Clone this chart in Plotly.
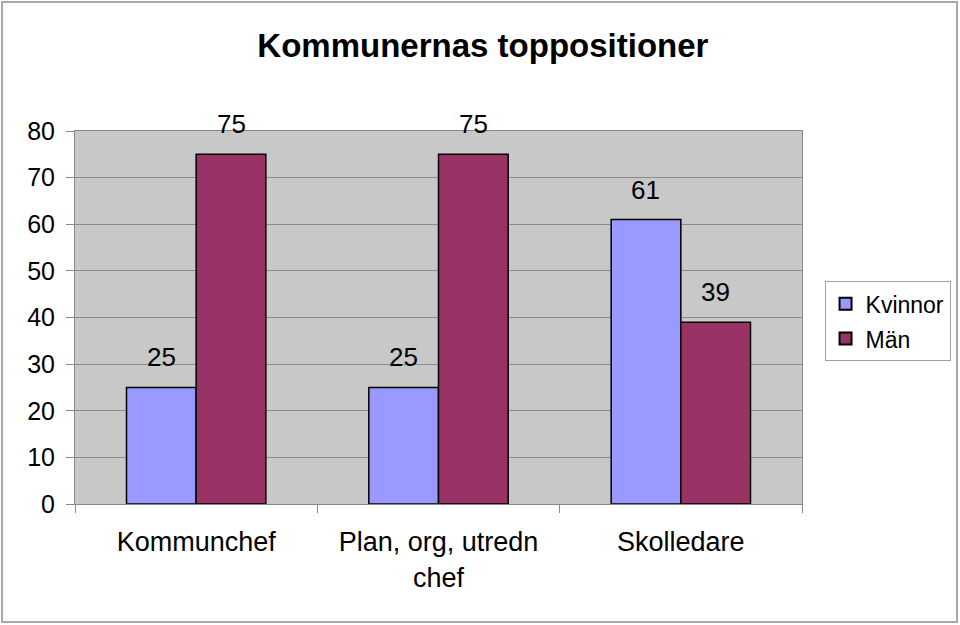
import plotly.graph_objects as go

categories = ["Kommunchef", "Plan, org, utredn<br>chef", "Skolledare"]
kvinnor = [25, 25, 61]
man = [75, 75, 39]
series_names = ["Kvinnor", "Män"]
y_ticks = [0, 10, 20, 30, 40, 50, 60, 70, 80]

FONT = "Liberation Sans, Arial, sans-serif"
col_k = "#9999FF"
col_m = "#993366"

fig = go.Figure()
fig.add_trace(go.Bar(x=categories, y=kvinnor, name=series_names[0], legendgroup="k",
                     marker=dict(color=col_k, line=dict(color="black", width=1.5))))
fig.add_trace(go.Bar(x=categories, y=man, name=series_names[1], legendgroup="m",
                     marker=dict(color=col_m, line=dict(color="black", width=1.5))))

annotations = []
for vals, shift in ((kvinnor, -35), (man, 35)):
    for c, v in zip(categories, vals):
        annotations.append(dict(x=c, y=v, xref="x", yref="y", text=str(v), showarrow=False,
                                xshift=shift, yshift=13, yanchor="bottom",
                                font=dict(family=FONT, size=26, color="black")))

fig.update_layout(
    width=960, height=625,
    margin=dict(l=75, r=158, t=131, b=121, autoexpand=False),
    paper_bgcolor="white", plot_bgcolor="#C8C8C8",
    barmode="group", bargap=0.425, bargroupgap=0,
    font=dict(family=FONT, size=22, color="black"),
    title=dict(text="<b>Kommunernas toppositioner</b>", x=0.503, xanchor="center", y=0.928, yanchor="middle",
               font=dict(family=FONT, size=33, color="black")),
    legend=dict(x=1.031, y=0.49, xanchor="left", yanchor="middle", bordercolor="#A0A0A0", borderwidth=1,
                bgcolor="white", font=dict(family=FONT, size=23), itemsizing="constant", itemwidth=30,
                traceorder="grouped", tracegroupgap=2),
    annotations=annotations,
    showlegend=True,
)
fig.update_xaxes(type="category", showgrid=False, ticks="outside", tickson="boundaries", ticklen=8,
                 tickcolor="#888888", showline=True, linecolor="#888888", mirror=True,
                 ticklabelstandoff=14, tickfont=dict(family=FONT, size=27))
fig.update_yaxes(range=[0, 80], tickvals=y_ticks, showgrid=True, gridcolor="#8C8C8C", gridwidth=1,
                 ticks="outside", ticklen=8, tickcolor="#888888", showline=True, linecolor="#888888",
                 mirror=True, zeroline=False, ticklabelstandoff=6, tickfont=dict(family=FONT, size=25))

# outer chart border
fig.add_shape(type="rect", xref="paper", yref="paper", x0=-0.1004, x1=1.2132, y0=-0.3164, y1=1.3458,
              line=dict(color="#A8A8A8", width=2), fillcolor="rgba(0,0,0,0)", layer="below")

fig.write_html("out.html")
